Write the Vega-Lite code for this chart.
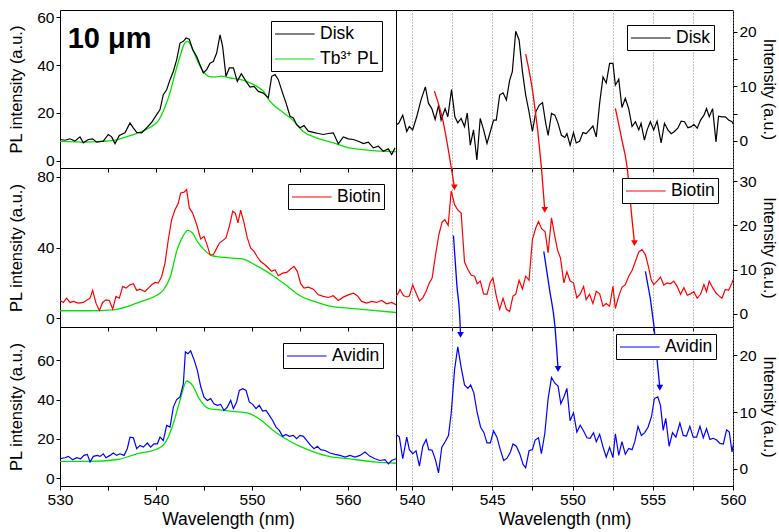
{
"$schema": "https://vega.github.io/schema/vega-lite/v6.json",
"background": "white",
"padding": {"left": 8, "top": 9, "right": 2, "bottom": 6},
"autosize": {"type": "pad"},
"config": {
 "font": "Liberation Sans",
 "view": {"stroke": "black", "strokeWidth": 1},
 "axis": {"domain": false, "grid": false, "tickColor": "black", "tickSize": 4, "labelColor": "black", "titleColor": "black", "labelFontSize": 15.5, "titleFontSize": 16.5, "titleFontWeight": "normal", "labelFont": "Liberation Sans", "titleFont": "Liberation Sans", "labelFlush": false, "labelOverlap": false},
 "legend": {"orient": "none", "strokeColor": "black", "fillColor": "white", "padding": 3, "labelFontSize": 17.5, "labelFont": "Liberation Sans", "labelColor": "black", "symbolType": "M-1,0H3.4", "symbolSize": 324, "symbolStrokeWidth": 1.2, "symbolFillColor": "transparent", "labelOffset": 26, "rowPadding": 6, "cornerRadius": 0}
},
"datasets": {
 "disk_l": [{"x":530.00,"y":8.9},{"x":530.52,"y":8.6},{"x":531.04,"y":9.2},{"x":531.56,"y":8.3},{"x":532.08,"y":10.0},{"x":532.43,"y":7.5},{"x":532.95,"y":8.9},{"x":533.40,"y":9.2},{"x":533.82,"y":7.8},{"x":534.51,"y":8.2},{"x":535.03,"y":11.0},{"x":535.38,"y":10.0},{"x":535.73,"y":7.2},{"x":536.18,"y":10.6},{"x":536.77,"y":11.7},{"x":537.29,"y":15.8},{"x":537.64,"y":13.8},{"x":537.99,"y":11.9},{"x":538.51,"y":11.7},{"x":539.03,"y":13.8},{"x":539.55,"y":16.1},{"x":540.07,"y":19.3},{"x":540.42,"y":21.4},{"x":540.76,"y":27.6},{"x":541.11,"y":29.7},{"x":541.46,"y":33.9},{"x":541.81,"y":37.4},{"x":542.15,"y":42.2},{"x":542.50,"y":49.2},{"x":542.85,"y":49.9},{"x":543.13,"y":51.3},{"x":543.47,"y":50.8},{"x":543.82,"y":46.4},{"x":544.24,"y":43.6},{"x":544.58,"y":40.1},{"x":544.93,"y":36.7},{"x":545.28,"y":38.1},{"x":545.63,"y":40.8},{"x":545.97,"y":41.5},{"x":546.32,"y":45.0},{"x":546.67,"y":52.6},{"x":546.94,"y":47.8},{"x":547.29,"y":35.3},{"x":547.64,"y":38.8},{"x":548.06,"y":38.8},{"x":548.47,"y":33.2},{"x":548.89,"y":36.4},{"x":549.38,"y":33.2},{"x":549.79,"y":30.8},{"x":550.21,"y":31.1},{"x":550.66,"y":29.0},{"x":551.18,"y":28.3},{"x":551.70,"y":26.3},{"x":552.05,"y":35.3},{"x":552.40,"y":36.0},{"x":552.74,"y":33.9},{"x":553.19,"y":28.3},{"x":553.54,"y":24.2},{"x":553.96,"y":18.6},{"x":554.31,"y":17.9},{"x":554.65,"y":15.1},{"x":555.00,"y":13.8},{"x":555.42,"y":14.7},{"x":555.87,"y":12.4},{"x":556.39,"y":11.9},{"x":556.91,"y":11.4},{"x":557.43,"y":11.0},{"x":557.95,"y":11.4},{"x":558.47,"y":11.7},{"x":558.99,"y":7.1},{"x":559.51,"y":10.0},{"x":560.03,"y":9.2},{"x":560.56,"y":8.9},{"x":561.08,"y":8.2},{"x":561.60,"y":7.2},{"x":562.12,"y":7.8},{"x":562.64,"y":5.4},{"x":563.16,"y":6.1},{"x":563.68,"y":4.0},{"x":564.20,"y":5.0},{"x":564.55,"y":2.6},{"x":564.90,"y":5.4}],
 "green_t": [{"x":530,"y":8.1},{"x":532.8,"y":7.8},{"x":534.2,"y":8.1},{"x":535.6,"y":8.5},{"x":536.9,"y":10.0},{"x":538.3,"y":11.9},{"x":539.4,"y":14.0},{"x":540.2,"y":16.5},{"x":540.9,"y":22.1},{"x":541.5,"y":29.0},{"x":542.0,"y":36.7},{"x":542.5,"y":43.6},{"x":543.0,"y":49.2},{"x":543.3,"y":49.9},{"x":543.7,"y":47.8},{"x":544.2,"y":42.9},{"x":544.8,"y":38.1},{"x":545.5,"y":35.3},{"x":546.1,"y":35.0},{"x":546.8,"y":35.4},{"x":547.7,"y":34.6},{"x":548.8,"y":33.9},{"x":549.4,"y":33.2},{"x":550.5,"y":31.1},{"x":551.2,"y":29.0},{"x":551.7,"y":25.8},{"x":552.2,"y":23.5},{"x":553.3,"y":20.0},{"x":554.3,"y":16.8},{"x":555.3,"y":12.4},{"x":556.7,"y":9.6},{"x":558.5,"y":7.5},{"x":560,"y":5.5},{"x":562,"y":4.5},{"x":565,"y":3.8}],
 "biotin_l": [{"x":530.00,"y":10.0},{"x":530.35,"y":8.9},{"x":530.69,"y":11.3},{"x":531.04,"y":8.9},{"x":531.39,"y":9.5},{"x":531.91,"y":8.5},{"x":532.43,"y":8.9},{"x":532.85,"y":10.4},{"x":533.13,"y":11.3},{"x":533.40,"y":15.7},{"x":533.75,"y":8.5},{"x":534.10,"y":4.3},{"x":534.44,"y":8.9},{"x":534.79,"y":10.4},{"x":535.14,"y":10.0},{"x":535.49,"y":5.1},{"x":535.83,"y":12.3},{"x":536.18,"y":11.3},{"x":536.53,"y":18.0},{"x":536.88,"y":17.0},{"x":537.29,"y":18.9},{"x":537.64,"y":19.5},{"x":537.99,"y":15.7},{"x":538.33,"y":16.4},{"x":538.85,"y":15.1},{"x":539.20,"y":17.0},{"x":539.55,"y":18.9},{"x":539.90,"y":20.2},{"x":540.24,"y":19.8},{"x":540.59,"y":23.6},{"x":540.94,"y":31.2},{"x":541.28,"y":44.4},{"x":541.63,"y":55.8},{"x":541.98,"y":61.4},{"x":542.33,"y":65.2},{"x":542.57,"y":70.9},{"x":542.92,"y":71.3},{"x":543.19,"y":72.8},{"x":543.47,"y":62.4},{"x":543.82,"y":59.5},{"x":544.24,"y":52.9},{"x":544.65,"y":44.8},{"x":545.00,"y":46.3},{"x":545.28,"y":42.2},{"x":545.63,"y":35.9},{"x":545.97,"y":35.9},{"x":546.25,"y":38.8},{"x":546.60,"y":42.5},{"x":546.94,"y":43.9},{"x":547.29,"y":45.4},{"x":547.64,"y":52.0},{"x":547.99,"y":60.5},{"x":548.26,"y":59.5},{"x":548.54,"y":53.9},{"x":548.82,"y":61.1},{"x":549.17,"y":53.9},{"x":549.51,"y":45.4},{"x":549.86,"y":39.7},{"x":550.21,"y":37.8},{"x":550.56,"y":34.6},{"x":550.90,"y":32.1},{"x":551.35,"y":30.2},{"x":551.70,"y":28.4},{"x":552.05,"y":26.5},{"x":552.40,"y":27.4},{"x":552.74,"y":24.0},{"x":553.19,"y":25.5},{"x":553.61,"y":25.9},{"x":554.03,"y":27.8},{"x":554.38,"y":29.3},{"x":554.72,"y":26.5},{"x":555.07,"y":19.5},{"x":555.42,"y":17.0},{"x":555.87,"y":17.6},{"x":556.39,"y":16.4},{"x":556.91,"y":13.2},{"x":557.43,"y":12.3},{"x":557.95,"y":11.7},{"x":558.47,"y":12.7},{"x":558.99,"y":10.0},{"x":559.51,"y":11.9},{"x":560.03,"y":13.2},{"x":560.56,"y":14.2},{"x":560.97,"y":12.7},{"x":561.42,"y":9.5},{"x":561.94,"y":8.5},{"x":562.47,"y":9.5},{"x":562.99,"y":8.9},{"x":563.51,"y":10.0},{"x":564.03,"y":8.1},{"x":564.55,"y":8.9},{"x":565.00,"y":7.6}],
 "green_m": [{"x":530,"y":4.2},{"x":533,"y":4.2},{"x":535.5,"y":4.7},{"x":537,"y":6.6},{"x":538.5,"y":9.5},{"x":540,"y":12.7},{"x":540.8,"y":16.1},{"x":541.5,"y":23.6},{"x":542.2,"y":38.8},{"x":542.8,"y":46.3},{"x":543.3,"y":49.7},{"x":543.8,"y":48.2},{"x":544.3,"y":43.5},{"x":545,"y":38.8},{"x":545.8,"y":35.4},{"x":546.8,"y":34.6},{"x":548,"y":34.0},{"x":549,"y":33.5},{"x":550.3,"y":30.2},{"x":551.5,"y":26.5},{"x":552.3,"y":23.6},{"x":553.5,"y":18.9},{"x":555,"y":12.7},{"x":556.5,"y":9.5},{"x":558,"y":7.0},{"x":560,"y":5.7},{"x":562,"y":4.7},{"x":565,"y":3.2}],
 "avidin_l": [{"x":530.00,"y":9.9},{"x":530.52,"y":10.4},{"x":530.87,"y":11.1},{"x":531.32,"y":9.4},{"x":531.74,"y":10.4},{"x":532.15,"y":9.9},{"x":532.50,"y":11.6},{"x":532.85,"y":12.1},{"x":533.13,"y":8.2},{"x":533.47,"y":11.1},{"x":533.89,"y":11.6},{"x":534.17,"y":11.1},{"x":534.51,"y":12.4},{"x":534.79,"y":10.4},{"x":535.21,"y":11.6},{"x":535.56,"y":12.8},{"x":535.90,"y":11.6},{"x":536.25,"y":12.4},{"x":536.67,"y":11.6},{"x":537.01,"y":15.0},{"x":537.29,"y":20.9},{"x":537.64,"y":20.6},{"x":537.99,"y":15.0},{"x":538.33,"y":16.7},{"x":538.68,"y":15.8},{"x":539.10,"y":17.9},{"x":539.44,"y":15.8},{"x":539.79,"y":17.5},{"x":540.14,"y":17.5},{"x":540.42,"y":20.9},{"x":540.76,"y":19.2},{"x":541.11,"y":26.9},{"x":541.46,"y":26.0},{"x":541.81,"y":36.2},{"x":542.15,"y":40.0},{"x":542.50,"y":41.3},{"x":542.85,"y":48.1},{"x":543.06,"y":64.3},{"x":543.33,"y":63.4},{"x":543.61,"y":64.8},{"x":543.96,"y":60.4},{"x":544.31,"y":54.9},{"x":544.65,"y":46.8},{"x":545.00,"y":41.3},{"x":545.35,"y":39.6},{"x":545.69,"y":40.5},{"x":546.04,"y":37.9},{"x":546.39,"y":37.1},{"x":546.74,"y":37.6},{"x":547.08,"y":34.5},{"x":547.43,"y":36.2},{"x":547.78,"y":39.6},{"x":548.06,"y":35.4},{"x":548.40,"y":38.8},{"x":548.68,"y":44.7},{"x":549.03,"y":45.6},{"x":549.38,"y":44.7},{"x":549.72,"y":38.8},{"x":550.07,"y":37.6},{"x":550.42,"y":35.4},{"x":550.76,"y":37.1},{"x":551.11,"y":34.2},{"x":551.46,"y":34.5},{"x":551.81,"y":32.0},{"x":552.15,"y":29.4},{"x":552.50,"y":26.0},{"x":552.85,"y":24.3},{"x":553.19,"y":21.3},{"x":553.54,"y":22.3},{"x":553.89,"y":21.3},{"x":554.31,"y":21.8},{"x":554.65,"y":20.1},{"x":555.00,"y":21.8},{"x":555.35,"y":21.3},{"x":555.69,"y":19.2},{"x":556.11,"y":16.7},{"x":556.46,"y":15.0},{"x":556.81,"y":16.2},{"x":557.15,"y":14.5},{"x":557.60,"y":14.1},{"x":558.13,"y":12.8},{"x":558.65,"y":12.1},{"x":559.17,"y":11.6},{"x":559.69,"y":10.7},{"x":560.21,"y":11.6},{"x":560.73,"y":10.7},{"x":561.25,"y":11.6},{"x":561.77,"y":13.3},{"x":562.29,"y":11.1},{"x":562.81,"y":9.9},{"x":563.33,"y":9.0},{"x":563.85,"y":9.4},{"x":564.20,"y":7.3},{"x":564.55,"y":9.0},{"x":565.00,"y":9.9}],
 "green_b": [{"x":530,"y":8.5},{"x":533,"y":8.5},{"x":536,"y":9.5},{"x":538,"y":12.4},{"x":540,"y":14.6},{"x":541,"y":18.4},{"x":541.8,"y":27.7},{"x":542.5,"y":39.6},{"x":543.2,"y":49.5},{"x":543.8,"y":47.3},{"x":544.5,"y":40.5},{"x":545.5,"y":35.4},{"x":546.5,"y":34.9},{"x":548,"y":34.0},{"x":549.5,"y":33.2},{"x":551,"y":29.4},{"x":552.2,"y":24.3},{"x":553.5,"y":20.1},{"x":555,"y":16.2},{"x":556.5,"y":13.3},{"x":558,"y":11.1},{"x":560,"y":9.9},{"x":563,"y":8.2},{"x":565,"y":7.6}],
 "disk_r": [{"x":539.00,"y":2.9},{"x":539.17,"y":3.2},{"x":539.42,"y":4.7},{"x":539.67,"y":1.7},{"x":539.83,"y":2.6},{"x":540.04,"y":2.0},{"x":540.29,"y":4.4},{"x":540.56,"y":7.5},{"x":540.83,"y":9.9},{"x":541.02,"y":6.9},{"x":541.23,"y":5.9},{"x":541.44,"y":3.9},{"x":541.65,"y":6.5},{"x":541.81,"y":3.8},{"x":542.06,"y":5.9},{"x":542.23,"y":4.4},{"x":542.46,"y":9.4},{"x":542.67,"y":4.4},{"x":542.85,"y":3.3},{"x":543.06,"y":4.1},{"x":543.27,"y":2.6},{"x":543.44,"y":5.1},{"x":543.63,"y":-0.8},{"x":543.83,"y":2.0},{"x":544.04,"y":-3.5},{"x":544.25,"y":4.1},{"x":544.46,"y":2.0},{"x":544.67,"y":-0.5},{"x":544.88,"y":1.7},{"x":545.08,"y":3.8},{"x":545.25,"y":3.8},{"x":545.46,"y":8.4},{"x":545.67,"y":8.8},{"x":545.88,"y":7.5},{"x":546.08,"y":11.1},{"x":546.25,"y":12.7},{"x":546.46,"y":20.1},{"x":546.67,"y":18.5},{"x":546.88,"y":12.7},{"x":547.08,"y":8.4},{"x":547.29,"y":5.3},{"x":547.50,"y":1.7},{"x":547.71,"y":5.3},{"x":547.92,"y":6.5},{"x":548.13,"y":7.0},{"x":548.33,"y":3.2},{"x":548.48,"y":1.0},{"x":548.69,"y":5.0},{"x":548.90,"y":4.7},{"x":549.10,"y":3.2},{"x":549.31,"y":1.0},{"x":549.52,"y":0.6},{"x":549.65,"y":1.3},{"x":549.85,"y":-0.8},{"x":550.06,"y":1.5},{"x":550.23,"y":-0.4},{"x":550.44,"y":-0.1},{"x":550.65,"y":1.5},{"x":550.85,"y":1.3},{"x":551.06,"y":2.0},{"x":551.27,"y":2.7},{"x":551.48,"y":0.7},{"x":551.69,"y":6.9},{"x":551.90,"y":11.7},{"x":552.10,"y":10.6},{"x":552.31,"y":14.2},{"x":552.52,"y":14.2},{"x":552.67,"y":10.2},{"x":552.88,"y":11.3},{"x":553.08,"y":6.1},{"x":553.29,"y":7.8},{"x":553.50,"y":5.9},{"x":553.71,"y":2.6},{"x":553.92,"y":3.5},{"x":554.13,"y":2.0},{"x":554.27,"y":3.2},{"x":554.48,"y":0.1},{"x":554.65,"y":2.0},{"x":554.85,"y":3.5},{"x":555.06,"y":2.0},{"x":555.27,"y":3.6},{"x":555.52,"y":-0.4},{"x":555.73,"y":3.2},{"x":555.94,"y":2.0},{"x":556.15,"y":1.3},{"x":556.35,"y":1.7},{"x":556.56,"y":2.3},{"x":556.77,"y":3.6},{"x":556.98,"y":3.5},{"x":557.19,"y":2.4},{"x":557.40,"y":2.6},{"x":557.56,"y":3.0},{"x":557.77,"y":2.3},{"x":557.98,"y":3.8},{"x":558.19,"y":4.7},{"x":558.35,"y":5.9},{"x":558.52,"y":4.4},{"x":558.73,"y":5.9},{"x":558.94,"y":-0.2},{"x":559.10,"y":4.5},{"x":559.31,"y":4.4},{"x":559.52,"y":4.4},{"x":559.73,"y":3.8},{"x":559.94,"y":3.5},{"x":560.15,"y":2.3}],
 "biotin_r": [{"x":539.00,"y":4.0},{"x":539.10,"y":4.4},{"x":539.25,"y":5.5},{"x":539.46,"y":4.1},{"x":539.67,"y":3.8},{"x":539.83,"y":4.0},{"x":540.04,"y":6.5},{"x":540.25,"y":4.7},{"x":540.46,"y":2.9},{"x":540.67,"y":3.6},{"x":540.88,"y":5.1},{"x":541.08,"y":7.0},{"x":541.25,"y":8.1},{"x":541.46,"y":13.2},{"x":541.67,"y":17.9},{"x":541.88,"y":20.8},{"x":542.04,"y":21.3},{"x":542.25,"y":20.0},{"x":542.44,"y":27.8},{"x":542.65,"y":24.7},{"x":542.85,"y":23.5},{"x":543.06,"y":22.8},{"x":543.27,"y":11.7},{"x":543.48,"y":10.0},{"x":543.69,"y":8.7},{"x":543.90,"y":8.5},{"x":544.06,"y":6.8},{"x":544.25,"y":7.4},{"x":544.46,"y":4.5},{"x":544.67,"y":4.4},{"x":544.88,"y":7.2},{"x":545.04,"y":8.1},{"x":545.25,"y":4.0},{"x":545.46,"y":1.0},{"x":545.67,"y":3.5},{"x":545.88,"y":1.0},{"x":546.08,"y":0.5},{"x":546.29,"y":4.0},{"x":546.46,"y":4.4},{"x":546.67,"y":7.6},{"x":546.88,"y":5.6},{"x":547.08,"y":8.5},{"x":547.29,"y":7.6},{"x":547.50,"y":16.8},{"x":547.71,"y":19.4},{"x":547.88,"y":20.9},{"x":548.08,"y":19.2},{"x":548.29,"y":18.6},{"x":548.48,"y":13.8},{"x":548.69,"y":21.7},{"x":548.90,"y":17.5},{"x":549.06,"y":14.5},{"x":549.25,"y":12.6},{"x":549.46,"y":7.0},{"x":549.65,"y":9.5},{"x":549.85,"y":7.4},{"x":550.06,"y":7.0},{"x":550.27,"y":3.6},{"x":550.48,"y":4.5},{"x":550.69,"y":6.2},{"x":550.85,"y":3.2},{"x":551.06,"y":4.4},{"x":551.27,"y":2.3},{"x":551.48,"y":5.1},{"x":551.69,"y":4.5},{"x":551.90,"y":1.7},{"x":552.10,"y":2.3},{"x":552.31,"y":1.7},{"x":552.52,"y":6.2},{"x":552.67,"y":1.2},{"x":552.88,"y":4.0},{"x":553.08,"y":6.0},{"x":553.29,"y":6.6},{"x":553.50,"y":8.5},{"x":553.71,"y":9.8},{"x":553.92,"y":11.9},{"x":554.13,"y":14.0},{"x":554.33,"y":14.5},{"x":554.54,"y":13.4},{"x":554.75,"y":10.4},{"x":554.90,"y":7.7},{"x":555.06,"y":6.6},{"x":555.27,"y":7.4},{"x":555.48,"y":8.3},{"x":555.69,"y":6.5},{"x":555.90,"y":7.0},{"x":556.10,"y":6.8},{"x":556.31,"y":7.4},{"x":556.52,"y":6.2},{"x":556.73,"y":4.4},{"x":556.94,"y":5.9},{"x":557.15,"y":4.2},{"x":557.35,"y":4.5},{"x":557.56,"y":5.0},{"x":557.77,"y":3.5},{"x":557.98,"y":4.4},{"x":558.19,"y":6.6},{"x":558.35,"y":5.0},{"x":558.52,"y":7.4},{"x":558.73,"y":5.9},{"x":558.94,"y":4.7},{"x":559.15,"y":4.0},{"x":559.31,"y":3.5},{"x":559.52,"y":5.5},{"x":559.73,"y":5.3},{"x":559.94,"y":7.0},{"x":560.15,"y":8.9}],
 "avidin_r": [{"x":539.00,"y":6.1},{"x":539.21,"y":5.6},{"x":539.42,"y":1.8},{"x":539.67,"y":5.6},{"x":539.83,"y":3.4},{"x":540.04,"y":2.7},{"x":540.25,"y":3.2},{"x":540.46,"y":0.5},{"x":540.67,"y":4.0},{"x":540.88,"y":5.2},{"x":541.04,"y":3.4},{"x":541.25,"y":3.3},{"x":541.46,"y":1.6},{"x":541.65,"y":-0.7},{"x":541.85,"y":3.8},{"x":542.06,"y":4.8},{"x":542.27,"y":5.9},{"x":542.44,"y":9.8},{"x":542.65,"y":17.5},{"x":542.85,"y":21.5},{"x":543.06,"y":17.9},{"x":543.27,"y":14.8},{"x":543.48,"y":14.2},{"x":543.65,"y":14.8},{"x":543.85,"y":13.4},{"x":544.06,"y":9.9},{"x":544.27,"y":7.4},{"x":544.48,"y":6.4},{"x":544.67,"y":4.6},{"x":544.88,"y":4.6},{"x":545.08,"y":6.7},{"x":545.29,"y":5.6},{"x":545.50,"y":3.4},{"x":545.71,"y":1.5},{"x":545.92,"y":1.9},{"x":546.13,"y":3.0},{"x":546.29,"y":4.4},{"x":546.50,"y":4.0},{"x":546.71,"y":2.7},{"x":546.92,"y":0.8},{"x":547.08,"y":0.2},{"x":547.29,"y":3.2},{"x":547.50,"y":3.4},{"x":547.67,"y":5.1},{"x":547.88,"y":5.5},{"x":548.06,"y":2.7},{"x":548.27,"y":6.2},{"x":548.48,"y":12.4},{"x":548.69,"y":16.1},{"x":548.90,"y":15.1},{"x":549.10,"y":14.6},{"x":549.27,"y":11.5},{"x":549.48,"y":12.8},{"x":549.65,"y":14.2},{"x":549.85,"y":8.5},{"x":550.06,"y":9.9},{"x":550.27,"y":6.5},{"x":550.48,"y":7.7},{"x":550.69,"y":6.7},{"x":550.90,"y":5.5},{"x":551.10,"y":5.4},{"x":551.31,"y":6.4},{"x":551.48,"y":4.8},{"x":551.69,"y":6.1},{"x":551.90,"y":3.9},{"x":552.10,"y":2.1},{"x":552.31,"y":3.8},{"x":552.52,"y":2.0},{"x":552.67,"y":6.2},{"x":552.88,"y":2.4},{"x":553.08,"y":4.8},{"x":553.29,"y":2.6},{"x":553.50,"y":3.6},{"x":553.71,"y":3.4},{"x":553.88,"y":4.8},{"x":554.08,"y":7.5},{"x":554.29,"y":5.9},{"x":554.50,"y":6.4},{"x":554.71,"y":7.4},{"x":554.92,"y":9.2},{"x":555.10,"y":12.4},{"x":555.31,"y":12.7},{"x":555.48,"y":11.2},{"x":555.65,"y":6.8},{"x":555.81,"y":8.9},{"x":556.02,"y":4.0},{"x":556.23,"y":6.4},{"x":556.44,"y":5.6},{"x":556.69,"y":8.1},{"x":556.90,"y":5.9},{"x":557.10,"y":5.8},{"x":557.31,"y":7.5},{"x":557.52,"y":5.6},{"x":557.73,"y":5.6},{"x":557.94,"y":7.5},{"x":558.15,"y":5.5},{"x":558.35,"y":7.1},{"x":558.56,"y":5.2},{"x":558.77,"y":5.4},{"x":558.98,"y":5.1},{"x":559.19,"y":4.5},{"x":559.40,"y":4.4},{"x":559.60,"y":6.9},{"x":559.77,"y":6.5},{"x":559.94,"y":3.0},{"x":560.10,"y":5.6}],
 "red_arrows": [{"a":1,"x":541.39,"y":50.4},{"a":1,"x":541.92,"y":43.8},{"a":1,"x":542.44,"y":33.2},{"a":1,"x":542.64,"y":28.6},{"a":2,"x":547.08,"y":58.8},{"a":2,"x":547.54,"y":49.8},{"a":2,"x":548.06,"y":33.2},{"a":2,"x":548.27,"y":23.5},{"a":3,"x":552.67,"y":46.5},{"a":3,"x":553.08,"y":39.3},{"a":3,"x":553.4,"y":33.2},{"a":3,"x":553.7,"y":21.7},{"a":3,"x":553.86,"y":16.0}],
 "red_heads": [{"x":542.64,"y":28.6},{"x":548.27,"y":23.5},{"x":553.86,"y":16.0}],
 "blue_arrows": [{"a":1,"x":542.58,"y":41.1},{"a":1,"x":542.79,"y":32.5},{"a":1,"x":543.0,"y":25.2},{"a":1,"x":543.02,"y":23.6},{"a":2,"x":548.21,"y":38.3},{"a":2,"x":548.58,"y":31.4},{"a":2,"x":548.89,"y":25.5},{"a":2,"x":549.1,"y":17.6},{"a":3,"x":554.54,"y":34.8},{"a":3,"x":555.06,"y":25.5},{"a":3,"x":555.27,"y":19.2},{"a":3,"x":555.44,"y":14.3}],
 "blue_heads": [{"x":543.02,"y":23.6},{"x":549.1,"y":17.6},{"x":555.44,"y":14.3}],
 "label": [{"t":"10 μm"}]
},
"bounds": "flush",
"spacing": 0,
"columns": 2,
"resolve": {"scale": {"x": "independent", "y": "independent", "color": "independent"}, "legend": {"color": "independent"}},
"concat": [
  {"width": 336, "height": 158,
   "layer": [
    {"data": {"name": "green_t"}, "mark": {"type": "line", "clip": true, "strokeWidth": 1.3, "interpolate": "monotone"},
     "encoding": {"x": {"field": "x", "type": "quantitative", "scale": {"domain": [530, 565], "nice": false, "zero": false}, "axis": {"values": [530,535,540,545,550,555,560,565], "labels": false, "title": null}},
      "y": {"field": "y", "type": "quantitative", "scale": {"domain": [-3, 63], "nice": false, "zero": false}, "axis": {"values": [0,10,20,30,40,50,60], "labelExpr": "datum.value % 20 === 0 ? datum.label : ''", "title": "PL intensity (a.u.)", "titlePadding": 12}},
      "color": {"datum": "Tb³⁺ PL", "type": "nominal", "scale": {"domain": ["Disk", "Tb³⁺ PL"], "range": ["black", "#00e600"]}, "legend": {"title": null, "legendX": 211, "legendY": 11}}}},
    {"data": {"name": "disk_l"}, "mark": {"type": "line", "clip": true, "strokeWidth": 1.2},
     "encoding": {"x": {"field": "x", "type": "quantitative"}, "y": {"field": "y", "type": "quantitative"}, "color": {"datum": "Disk", "type": "nominal"}}},
    {"data": {"name": "label"}, "mark": {"type": "text", "fontSize": 29, "fontWeight": "bold", "align": "left", "baseline": "alphabetic", "font": "Liberation Sans", "color": "black"},
     "encoding": {"text": {"field": "t", "type": "nominal"}, "x": {"datum": 530.8, "type": "quantitative"}, "y": {"datum": 47.2, "type": "quantitative"}}}
   ]},
  {"width": 337, "height": 158,
   "layer": [
    {"data": {"name": "disk_r"}, "mark": {"type": "line", "clip": true, "strokeWidth": 1.2},
     "encoding": {"x": {"field": "x", "type": "quantitative", "scale": {"domain": [539, 560], "nice": false, "zero": false}, "axis": {"values": [540,542.5,545,547.5,550,552.5,555,557.5,560], "labels": false, "title": null, "grid": true, "gridDash": [1,2], "gridColor": "#888888"}},
      "y": {"field": "y", "type": "quantitative", "scale": {"domain": [-5, 24], "nice": false, "zero": false}, "axis": {"orient": "right", "values": [0,5,10,15,20], "labelExpr": "datum.value % 10 === 0 ? datum.label : ''", "title": "Intensity (a.u.)", "titleFontSize": 16, "titlePadding": 4}},
      "color": {"datum": "Disk", "type": "nominal", "scale": {"domain": ["Disk"], "range": ["black"]}, "legend": {"title": null, "legendX": 231, "legendY": 15}}}}
   ]},
  {"width": 336, "height": 159,
   "layer": [
    {"data": {"name": "green_m"}, "mark": {"type": "line", "clip": true, "strokeWidth": 1.3, "interpolate": "monotone"},
     "encoding": {"x": {"field": "x", "type": "quantitative", "scale": {"domain": [530, 565], "nice": false, "zero": false}, "axis": {"values": [530,535,540,545,550,555,560,565], "labels": false, "title": null}},
      "y": {"field": "y", "type": "quantitative", "scale": {"domain": [-5, 85], "nice": false, "zero": false}, "axis": {"values": [0,10,20,30,40,50,60,70,80], "labelExpr": "datum.value % 20 === 0 ? datum.label : ''", "title": "PL intensity (a.u.)", "titlePadding": 12}},
      "color": {"datum": "Tb³⁺ PL", "type": "nominal", "scale": {"domain": ["Biotin", "Tb³⁺ PL"], "range": ["#ff0000", "#00e600"]}, "legend": {"title": null, "values": ["Biotin"], "legendX": 228, "legendY": 16}}}},
    {"data": {"name": "biotin_l"}, "mark": {"type": "line", "clip": true, "strokeWidth": 1.2},
     "encoding": {"x": {"field": "x", "type": "quantitative"}, "y": {"field": "y", "type": "quantitative"}, "color": {"datum": "Biotin", "type": "nominal"}}}
   ]},
  {"width": 337, "height": 159,
   "layer": [
    {"data": {"name": "biotin_r"}, "mark": {"type": "line", "clip": true, "strokeWidth": 1.2},
     "encoding": {"x": {"field": "x", "type": "quantitative", "scale": {"domain": [539, 560], "nice": false, "zero": false}, "axis": {"values": [540,542.5,545,547.5,550,552.5,555,557.5,560], "labels": false, "title": null, "grid": true, "gridDash": [1,2], "gridColor": "#888888"}},
      "y": {"field": "y", "type": "quantitative", "scale": {"domain": [-3, 33], "nice": false, "zero": false}, "axis": {"orient": "right", "values": [0,5,10,15,20,25,30], "labelExpr": "datum.value % 10 === 0 ? datum.label : ''", "title": "Intensity (a.u.)", "titleFontSize": 16, "titlePadding": 4}},
      "color": {"datum": "Biotin", "type": "nominal", "scale": {"domain": ["Biotin"], "range": ["#ff0000"]}, "legend": {"title": null, "legendX": 226, "legendY": 10}}}},
    {"data": {"name": "red_arrows"}, "mark": {"type": "line", "clip": false, "strokeWidth": 1.3, "color": "#ff0000", "interpolate": "monotone"},
     "encoding": {"x": {"field": "x", "type": "quantitative"}, "y": {"field": "y", "type": "quantitative"}, "detail": {"field": "a", "type": "nominal"}}},
    {"data": {"name": "red_heads"}, "mark": {"type": "point", "shape": "triangle-down", "filled": true, "size": 45, "opacity": 1, "color": "#ff0000", "clip": false},
     "encoding": {"x": {"field": "x", "type": "quantitative"}, "y": {"field": "y", "type": "quantitative"}}}
   ]},
  {"width": 336, "height": 159,
   "layer": [
    {"data": {"name": "green_b"}, "mark": {"type": "line", "clip": true, "strokeWidth": 1.3, "interpolate": "monotone"},
     "encoding": {"x": {"field": "x", "type": "quantitative", "scale": {"domain": [530, 565], "nice": false, "zero": false}, "axis": {"values": [530,535,540,545,550,555,560,565], "labelExpr": "datum.value % 10 === 0 ? datum.label : ''", "title": "Wavelength (nm)", "titleFontSize": 17.5, "titlePadding": 3}},
      "y": {"field": "y", "type": "quantitative", "scale": {"domain": [-4, 77], "nice": false, "zero": false}, "axis": {"values": [0,10,20,30,40,50,60,70], "labelExpr": "datum.value % 20 === 0 ? datum.label : ''", "title": "PL intensity (a.u.)", "titlePadding": 12}},
      "color": {"datum": "Tb³⁺ PL", "type": "nominal", "scale": {"domain": ["Avidin", "Tb³⁺ PL"], "range": ["#0000ff", "#00e600"]}, "legend": {"title": null, "values": ["Avidin"], "legendX": 223, "legendY": 16}}}},
    {"data": {"name": "avidin_l"}, "mark": {"type": "line", "clip": true, "strokeWidth": 1.2},
     "encoding": {"x": {"field": "x", "type": "quantitative"}, "y": {"field": "y", "type": "quantitative"}, "color": {"datum": "Avidin", "type": "nominal"}}}
   ]},
  {"width": 337, "height": 159,
   "layer": [
    {"data": {"name": "avidin_r"}, "mark": {"type": "line", "clip": true, "strokeWidth": 1.2},
     "encoding": {"x": {"field": "x", "type": "quantitative", "scale": {"domain": [539, 560], "nice": false, "zero": false}, "axis": {"values": [540,542.5,545,547.5,550,552.5,555,557.5,560], "labelExpr": "datum.value % 5 === 0 ? datum.label : ''", "title": "Wavelength (nm)", "titleFontSize": 17.5, "titlePadding": 3, "grid": true, "gridDash": [1,2], "gridColor": "#888888"}},
      "y": {"field": "y", "type": "quantitative", "scale": {"domain": [-3, 25], "nice": false, "zero": false}, "axis": {"orient": "right", "values": [0,5,10,15,20,25], "labelExpr": "datum.value % 10 === 0 ? datum.label : ''", "title": "Intensity (a.u.)", "titleFontSize": 16, "titlePadding": 4}},
      "color": {"datum": "Avidin", "type": "nominal", "scale": {"domain": ["Avidin"], "range": ["#0000ff"]}, "legend": {"title": null, "legendX": 220, "legendY": 7}}}},
    {"data": {"name": "blue_arrows"}, "mark": {"type": "line", "clip": false, "strokeWidth": 1.3, "color": "#0000ff", "interpolate": "monotone"},
     "encoding": {"x": {"field": "x", "type": "quantitative"}, "y": {"field": "y", "type": "quantitative"}, "detail": {"field": "a", "type": "nominal"}}},
    {"data": {"name": "blue_heads"}, "mark": {"type": "point", "shape": "triangle-down", "filled": true, "size": 45, "opacity": 1, "color": "#0000ff", "clip": false},
     "encoding": {"x": {"field": "x", "type": "quantitative"}, "y": {"field": "y", "type": "quantitative"}}}
   ]}
]
}
